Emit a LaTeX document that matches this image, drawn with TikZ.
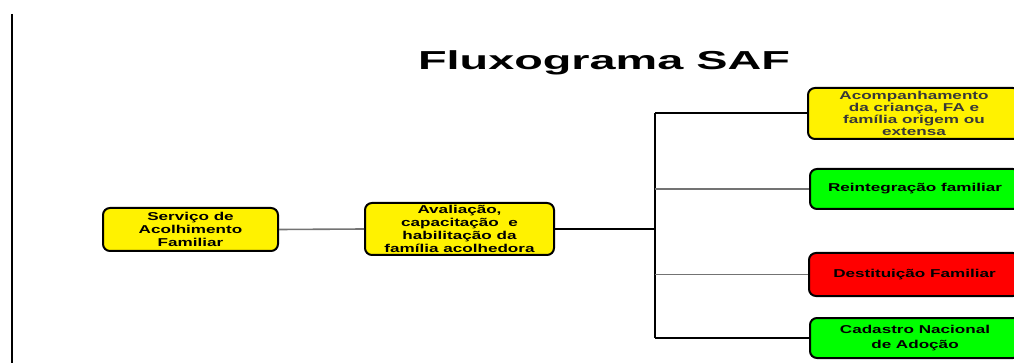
\documentclass[tikz,border=0pt]{standalone}
\usepackage{fontspec}
\setmainfont{Liberation Sans}[FakeStretch=1.5]
\newfontfamily\titlefont{Liberation Sans}[FakeStretch=1.8]
\usepackage{tikz}

\tikzset{
  box/.style={draw=black, line width=2pt, rounded corners=7pt, align=center,
    inner sep=0pt, text=black, font=\bfseries\fontsize{11.4}{12.8}\selectfont},
  trunkline/.style={line width=2.5pt, black},
  grayline/.style={line width=1.6pt, black!55},
}

\begin{document}
\begin{tikzpicture}[x=1pt, y=-1pt]

\useasboundingbox (0,0) rectangle (1014,363);

% Draw the rule at the left margin
\draw [line width=1.2pt] (12,14) -- (12,363);

% Draw the title
\node [anchor=base, inner sep=0pt] (title) at (604,70) {\titlefont\bfseries\fontsize{26}{30}\selectfont Fluxograma SAF};

% Draw the boxes
\node [box, fill=yellow, minimum width=175, minimum height=43] (servico) at (190.5,229.5)
  {Serviço de\\Acolhimento\\Familiar};
\node [box, fill=yellow, minimum width=189, minimum height=52] (avaliacao) at (459.5,229)
  {Avaliação,\\capacitação~ e\\habilitação da\\família acolhedora};
\node [box, fill=yellow, minimum width=212, minimum height=51, text=black!78,
  font=\bfseries\fontsize{11.4}{12}\selectfont] (acomp) at (914,113.5)
  {Acompanhamento\\da criança, FA e\\família origem ou\\extensa};
\node [box, fill=green, minimum width=210, minimum height=40] (reint) at (915,189)
  {Reintegração familiar};
\node [box, fill=red, minimum width=211, minimum height=43] (destit) at (914.5,274.5)
  {Destituição Familiar};
\node [box, fill=green, minimum width=210, minimum height=40,
  font=\bfseries\fontsize{11.4}{14.5}\selectfont] (cadastro) at (915,338)
  {Cadastro Nacional\\de Adoção};

% Draw the trunk of the tree
\coordinate (ttop) at (655,113.5);
\coordinate (tmid) at (655,229);
\coordinate (tbot) at (655,338);
\draw [trunkline] (ttop) -- (tbot);

% Draw the connectors
\draw [grayline] (servico.east) -- (avaliacao.west);
\draw [trunkline, line width=2pt] (avaliacao.east) -- (tmid);
\draw [trunkline, line width=2pt] (ttop) -- (acomp.west);
\draw [grayline] (reint.west -| ttop) -- (reint.west);
\draw [grayline] (destit.west -| ttop) -- (destit.west);
\draw [trunkline, line width=2pt] (tbot) -- (cadastro.west);

\end{tikzpicture}
\end{document}
